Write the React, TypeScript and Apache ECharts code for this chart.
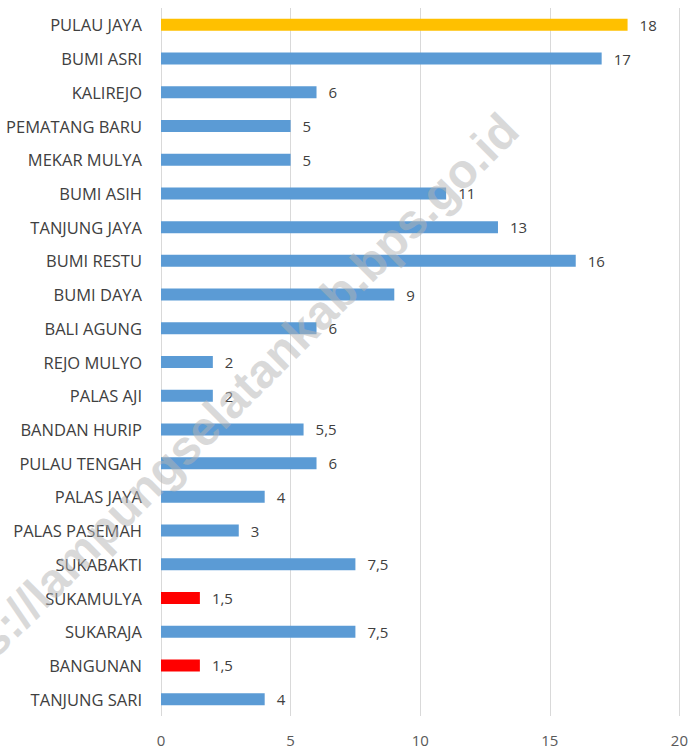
import React, { useEffect, useRef } from "react";
import * as echarts from "echarts";

const categories = [
  "PULAU JAYA", "BUMI ASRI", "KALIREJO", "PEMATANG BARU", "MEKAR MULYA",
  "BUMI ASIH", "TANJUNG JAYA", "BUMI RESTU", "BUMI DAYA", "BALI AGUNG",
  "REJO MULYO", "PALAS AJI", "BANDAN HURIP", "PULAU TENGAH", "PALAS JAYA",
  "PALAS PASEMAH", "SUKABAKTI", "SUKAMULYA", "SUKARAJA", "BANGUNAN", "TANJUNG SARI",
];
const values = [18, 17, 6, 5, 5, 11, 13, 16, 9, 6, 2, 2, 5.5, 6, 4, 3, 7.5, 1.5, 7.5, 1.5, 4];
const xTicks = [0, 5, 10, 15, 20];
const watermark = "https://lampungselatankab.bps.go.id";

const BLUE = "#5B9BD5";
const GOLD = "#FFC000";
const RED = "#FF0000";

export default function App() {
  const ref = useRef<HTMLDivElement>(null);
  useEffect(() => {
    if (!ref.current) return;
    const chart = echarts.init(ref.current, undefined, { renderer: "svg" });
    const maxV = Math.max(...values);
    const minV = Math.min(...values);
    const font = "'Open Sans', 'Noto Sans', sans-serif";
    chart.setOption({
      animation: false,
      backgroundColor: "#ffffff",
      grid: { left: 161, right: 6, top: 8, bottom: 33, containLabel: false },
      xAxis: {
        type: "value",
        min: xTicks[0],
        max: xTicks[xTicks.length - 1],
        interval: 5,
        axisLine: { show: false },
        axisTick: { show: false },
        splitLine: { show: true, lineStyle: { color: "#d9d9d9", width: 1 } },
        axisLabel: { color: "#595959", fontSize: 15, fontFamily: font, margin: 16 },
      },
      yAxis: {
        type: "category",
        data: categories,
        inverse: true,
        axisLine: { show: false },
        axisTick: { show: false },
        axisLabel: { color: "#404040", fontSize: 16.5, fontFamily: font, margin: 19 },
      },
      series: [
        {
          type: "bar",
          barWidth: 12,
          data: values.map((v) => ({
            value: v,
            itemStyle: { color: v === maxV ? GOLD : v === minV ? RED : BLUE },
          })),
          label: {
            show: true,
            position: "right",
            distance: 12,
            color: "#404040",
            fontSize: 15,
            fontFamily: font,
            formatter: (p: any) => String(p.value).replace(".", ","),
          },
        },
      ],
      graphic: [
        {
          type: "text",
          x: 215,
          y: 417,
          rotation: Math.PI / 4,
          z: 100,
          silent: true,
          style: {
            text: watermark,
            fontSize: 48,
            fontWeight: "bold",
            fontFamily: "'Liberation Sans', Arial, sans-serif",
            fill: "rgba(180,180,180,0.5)",
            align: "center",
            verticalAlign: "middle",
          },
        },
      ],
    });
    return () => chart.dispose();
  }, []);
  return (
    <div
      ref={ref}
      style={{ position: "fixed", left: 0, top: 0, width: 691, height: 749 }}
    />
  );
}
